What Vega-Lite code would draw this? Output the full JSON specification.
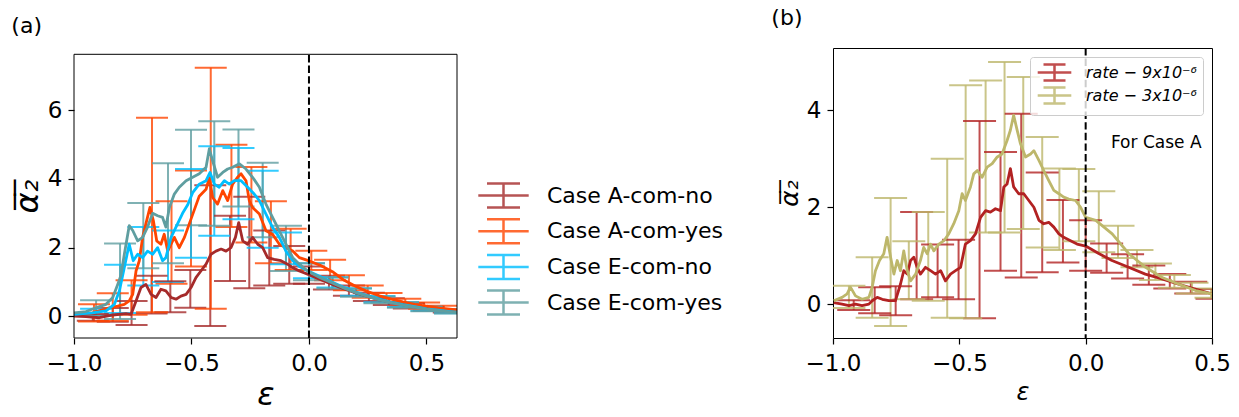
{
"$schema": "https://vega.github.io/schema/vega-lite/v6.json",
"background": "white",
"padding": {"left": 11, "top": 6, "right": 5, "bottom": 3},
"spacing": 47,
"config": {
  "font": "DejaVu Sans",
  "view": {"stroke": "#000", "strokeWidth": 1},
  "axis": {"grid": false, "domain": false, "labelFlush": false, "tickColor": "#000", "tickSize": 6, "tickWidth": 1.2, "labelColor": "#000", "labelFont": "DejaVu Sans", "labelFontSize": 23, "titleColor": "#000", "titleFont": "DejaVu Sans", "titleFontWeight": "normal", "titleFontStyle": "italic"},
  "axisX": {"labelPadding": 8},
  "axisY": {"labelPadding": 6},
  "title": {"font": "DejaVu Sans", "fontSize": 22, "fontWeight": "normal", "anchor": "start", "color": "#000"},
  "legend": {"title": null, "labelFont": "DejaVu Sans", "labelColor": "#000", "labelLimit": 0}
},
"datasets": {
  "la": [
    {"s":"Case A-com-no","x":-1.0,"y":0.01},{"s":"Case A-com-no","x":-0.949,"y":-0.01},{"s":"Case A-com-no","x":-0.892,"y":-0.04},{"s":"Case A-com-no","x":-0.835,"y":0.04},{"s":"Case A-com-no","x":-0.779,"y":0.08},{"s":"Case A-com-no","x":-0.757,"y":0.06},{"s":"Case A-com-no","x":-0.736,"y":0.45},{"s":"Case A-com-no","x":-0.715,"y":0.84},{"s":"Case A-com-no","x":-0.694,"y":0.93},{"s":"Case A-com-no","x":-0.672,"y":0.64},{"s":"Case A-com-no","x":-0.651,"y":0.55},{"s":"Case A-com-no","x":-0.63,"y":0.79},{"s":"Case A-com-no","x":-0.609,"y":0.74},{"s":"Case A-com-no","x":-0.587,"y":0.55},{"s":"Case A-com-no","x":-0.566,"y":0.5},{"s":"Case A-com-no","x":-0.545,"y":0.59},{"s":"Case A-com-no","x":-0.523,"y":0.64},{"s":"Case A-com-no","x":-0.502,"y":0.84},{"s":"Case A-com-no","x":-0.481,"y":1.13},{"s":"Case A-com-no","x":-0.46,"y":1.32},{"s":"Case A-com-no","x":-0.438,"y":1.52},{"s":"Case A-com-no","x":-0.417,"y":1.81},{"s":"Case A-com-no","x":-0.396,"y":1.9},{"s":"Case A-com-no","x":-0.374,"y":1.96},{"s":"Case A-com-no","x":-0.353,"y":1.9},{"s":"Case A-com-no","x":-0.332,"y":2.0},{"s":"Case A-com-no","x":-0.313,"y":2.3},{"s":"Case A-com-no","x":-0.299,"y":2.73},{"s":"Case A-com-no","x":-0.282,"y":2.2},{"s":"Case A-com-no","x":-0.261,"y":2.1},{"s":"Case A-com-no","x":-0.24,"y":2.3},{"s":"Case A-com-no","x":-0.218,"y":2.1},{"s":"Case A-com-no","x":-0.197,"y":2.0},{"s":"Case A-com-no","x":-0.176,"y":1.71},{"s":"Case A-com-no","x":-0.148,"y":1.66},{"s":"Case A-com-no","x":-0.119,"y":1.62},{"s":"Case A-com-no","x":-0.091,"y":1.52},{"s":"Case A-com-no","x":-0.07,"y":1.42},{"s":"Case A-com-no","x":-0.041,"y":1.32},{"s":"Case A-com-no","x":-0.006,"y":1.23},{"s":"Case A-com-no","x":0.05,"y":1.07},{"s":"Case A-com-no","x":0.1,"y":0.93},{"s":"Case A-com-no","x":0.15,"y":0.8},{"s":"Case A-com-no","x":0.2,"y":0.68},{"s":"Case A-com-no","x":0.25,"y":0.58},{"s":"Case A-com-no","x":0.3,"y":0.49},{"s":"Case A-com-no","x":0.35,"y":0.41},{"s":"Case A-com-no","x":0.4,"y":0.34},{"s":"Case A-com-no","x":0.45,"y":0.28},{"s":"Case A-com-no","x":0.5,"y":0.23},{"s":"Case A-com-no","x":0.55,"y":0.19},{"s":"Case A-com-no","x":0.6,"y":0.16},{"s":"Case A-com-no","x":0.63,"y":0.14},
    {"s":"Case A-com-yes","x":-1.0,"y":0.08},{"s":"Case A-com-yes","x":-0.921,"y":0.1},{"s":"Case A-com-yes","x":-0.85,"y":0.25},{"s":"Case A-com-yes","x":-0.814,"y":0.3},{"s":"Case A-com-yes","x":-0.786,"y":0.35},{"s":"Case A-com-yes","x":-0.765,"y":0.45},{"s":"Case A-com-yes","x":-0.75,"y":0.64},{"s":"Case A-com-yes","x":-0.736,"y":1.32},{"s":"Case A-com-yes","x":-0.722,"y":1.62},{"s":"Case A-com-yes","x":-0.708,"y":2.3},{"s":"Case A-com-yes","x":-0.691,"y":2.78},{"s":"Case A-com-yes","x":-0.677,"y":3.17},{"s":"Case A-com-yes","x":-0.662,"y":2.78},{"s":"Case A-com-yes","x":-0.648,"y":2.2},{"s":"Case A-com-yes","x":-0.63,"y":2.1},{"s":"Case A-com-yes","x":-0.616,"y":2.39},{"s":"Case A-com-yes","x":-0.601,"y":1.9},{"s":"Case A-com-yes","x":-0.587,"y":2.1},{"s":"Case A-com-yes","x":-0.573,"y":2.3},{"s":"Case A-com-yes","x":-0.552,"y":2.0},{"s":"Case A-com-yes","x":-0.53,"y":2.3},{"s":"Case A-com-yes","x":-0.509,"y":2.7},{"s":"Case A-com-yes","x":-0.488,"y":3.1},{"s":"Case A-com-yes","x":-0.467,"y":3.5},{"s":"Case A-com-yes","x":-0.438,"y":3.7},{"s":"Case A-com-yes","x":-0.424,"y":4.05},{"s":"Case A-com-yes","x":-0.41,"y":3.46},{"s":"Case A-com-yes","x":-0.389,"y":3.27},{"s":"Case A-com-yes","x":-0.367,"y":3.66},{"s":"Case A-com-yes","x":-0.346,"y":3.37},{"s":"Case A-com-yes","x":-0.325,"y":3.85},{"s":"Case A-com-yes","x":-0.304,"y":4.05},{"s":"Case A-com-yes","x":-0.289,"y":4.15},{"s":"Case A-com-yes","x":-0.268,"y":3.95},{"s":"Case A-com-yes","x":-0.254,"y":3.37},{"s":"Case A-com-yes","x":-0.24,"y":3.17},{"s":"Case A-com-yes","x":-0.211,"y":2.98},{"s":"Case A-com-yes","x":-0.183,"y":2.49},{"s":"Case A-com-yes","x":-0.155,"y":2.39},{"s":"Case A-com-yes","x":-0.126,"y":2.1},{"s":"Case A-com-yes","x":-0.098,"y":2.0},{"s":"Case A-com-yes","x":-0.069,"y":1.9},{"s":"Case A-com-yes","x":-0.041,"y":1.71},{"s":"Case A-com-yes","x":-0.006,"y":1.63},{"s":"Case A-com-yes","x":0.05,"y":1.48},{"s":"Case A-com-yes","x":0.1,"y":1.3},{"s":"Case A-com-yes","x":0.15,"y":1.05},{"s":"Case A-com-yes","x":0.2,"y":0.87},{"s":"Case A-com-yes","x":0.25,"y":0.72},{"s":"Case A-com-yes","x":0.3,"y":0.6},{"s":"Case A-com-yes","x":0.35,"y":0.5},{"s":"Case A-com-yes","x":0.4,"y":0.42},{"s":"Case A-com-yes","x":0.45,"y":0.35},{"s":"Case A-com-yes","x":0.5,"y":0.3},{"s":"Case A-com-yes","x":0.55,"y":0.25},{"s":"Case A-com-yes","x":0.6,"y":0.21},{"s":"Case A-com-yes","x":0.63,"y":0.19},
    {"s":"Case E-com-no","x":-1.0,"y":0.06},{"s":"Case E-com-no","x":-0.921,"y":0.1},{"s":"Case E-com-no","x":-0.864,"y":0.16},{"s":"Case E-com-no","x":-0.828,"y":0.35},{"s":"Case E-com-no","x":-0.807,"y":0.74},{"s":"Case E-com-no","x":-0.786,"y":1.42},{"s":"Case E-com-no","x":-0.765,"y":2.1},{"s":"Case E-com-no","x":-0.748,"y":1.62},{"s":"Case E-com-no","x":-0.729,"y":1.81},{"s":"Case E-com-no","x":-0.708,"y":1.71},{"s":"Case E-com-no","x":-0.687,"y":1.9},{"s":"Case E-com-no","x":-0.665,"y":1.81},{"s":"Case E-com-no","x":-0.644,"y":2.0},{"s":"Case E-com-no","x":-0.623,"y":1.62},{"s":"Case E-com-no","x":-0.609,"y":1.71},{"s":"Case E-com-no","x":-0.587,"y":2.3},{"s":"Case E-com-no","x":-0.566,"y":2.6},{"s":"Case E-com-no","x":-0.538,"y":3.0},{"s":"Case E-com-no","x":-0.516,"y":3.25},{"s":"Case E-com-no","x":-0.495,"y":3.6},{"s":"Case E-com-no","x":-0.467,"y":3.85},{"s":"Case E-com-no","x":-0.438,"y":3.95},{"s":"Case E-com-no","x":-0.421,"y":4.19},{"s":"Case E-com-no","x":-0.403,"y":3.85},{"s":"Case E-com-no","x":-0.382,"y":3.76},{"s":"Case E-com-no","x":-0.36,"y":3.95},{"s":"Case E-com-no","x":-0.339,"y":3.85},{"s":"Case E-com-no","x":-0.318,"y":3.95},{"s":"Case E-com-no","x":-0.289,"y":3.95},{"s":"Case E-com-no","x":-0.261,"y":3.76},{"s":"Case E-com-no","x":-0.233,"y":3.56},{"s":"Case E-com-no","x":-0.211,"y":3.37},{"s":"Case E-com-no","x":-0.183,"y":2.98},{"s":"Case E-com-no","x":-0.155,"y":2.59},{"s":"Case E-com-no","x":-0.126,"y":2.3},{"s":"Case E-com-no","x":-0.098,"y":1.9},{"s":"Case E-com-no","x":-0.069,"y":1.62},{"s":"Case E-com-no","x":-0.041,"y":1.45},{"s":"Case E-com-no","x":-0.006,"y":1.33},{"s":"Case E-com-no","x":0.05,"y":1.15},{"s":"Case E-com-no","x":0.1,"y":0.99},{"s":"Case E-com-no","x":0.15,"y":0.84},{"s":"Case E-com-no","x":0.2,"y":0.71},{"s":"Case E-com-no","x":0.25,"y":0.6},{"s":"Case E-com-no","x":0.3,"y":0.5},{"s":"Case E-com-no","x":0.35,"y":0.41},{"s":"Case E-com-no","x":0.4,"y":0.34},{"s":"Case E-com-no","x":0.45,"y":0.28},{"s":"Case E-com-no","x":0.5,"y":0.22},{"s":"Case E-com-no","x":0.55,"y":0.18},{"s":"Case E-com-no","x":0.6,"y":0.14},{"s":"Case E-com-no","x":0.63,"y":0.12},
    {"s":"Case E-com-yes","x":-1.0,"y":0.1},{"s":"Case E-com-yes","x":-0.949,"y":0.14},{"s":"Case E-com-yes","x":-0.906,"y":0.25},{"s":"Case E-com-yes","x":-0.864,"y":0.35},{"s":"Case E-com-yes","x":-0.835,"y":0.55},{"s":"Case E-com-yes","x":-0.814,"y":0.93},{"s":"Case E-com-yes","x":-0.8,"y":1.2},{"s":"Case E-com-yes","x":-0.786,"y":1.8},{"s":"Case E-com-yes","x":-0.765,"y":2.64},{"s":"Case E-com-yes","x":-0.75,"y":2.5},{"s":"Case E-com-yes","x":-0.729,"y":2.2},{"s":"Case E-com-yes","x":-0.708,"y":2.3},{"s":"Case E-com-yes","x":-0.687,"y":2.6},{"s":"Case E-com-yes","x":-0.665,"y":3.0},{"s":"Case E-com-yes","x":-0.644,"y":2.93},{"s":"Case E-com-yes","x":-0.623,"y":2.88},{"s":"Case E-com-yes","x":-0.609,"y":2.6},{"s":"Case E-com-yes","x":-0.594,"y":3.17},{"s":"Case E-com-yes","x":-0.573,"y":3.56},{"s":"Case E-com-yes","x":-0.552,"y":3.76},{"s":"Case E-com-yes","x":-0.523,"y":3.95},{"s":"Case E-com-yes","x":-0.495,"y":4.05},{"s":"Case E-com-yes","x":-0.467,"y":4.15},{"s":"Case E-com-yes","x":-0.438,"y":4.34},{"s":"Case E-com-yes","x":-0.424,"y":4.88},{"s":"Case E-com-yes","x":-0.41,"y":4.53},{"s":"Case E-com-yes","x":-0.389,"y":4.05},{"s":"Case E-com-yes","x":-0.367,"y":4.19},{"s":"Case E-com-yes","x":-0.346,"y":4.29},{"s":"Case E-com-yes","x":-0.325,"y":4.34},{"s":"Case E-com-yes","x":-0.296,"y":4.44},{"s":"Case E-com-yes","x":-0.268,"y":4.29},{"s":"Case E-com-yes","x":-0.24,"y":4.05},{"s":"Case E-com-yes","x":-0.211,"y":3.76},{"s":"Case E-com-yes","x":-0.183,"y":3.27},{"s":"Case E-com-yes","x":-0.155,"y":2.88},{"s":"Case E-com-yes","x":-0.126,"y":2.49},{"s":"Case E-com-yes","x":-0.098,"y":2.1},{"s":"Case E-com-yes","x":-0.069,"y":1.71},{"s":"Case E-com-yes","x":-0.041,"y":1.52},{"s":"Case E-com-yes","x":-0.006,"y":1.32},{"s":"Case E-com-yes","x":0.05,"y":1.12},{"s":"Case E-com-yes","x":0.1,"y":0.97},{"s":"Case E-com-yes","x":0.15,"y":0.82},{"s":"Case E-com-yes","x":0.2,"y":0.69},{"s":"Case E-com-yes","x":0.25,"y":0.58},{"s":"Case E-com-yes","x":0.3,"y":0.48},{"s":"Case E-com-yes","x":0.35,"y":0.4},{"s":"Case E-com-yes","x":0.4,"y":0.33},{"s":"Case E-com-yes","x":0.45,"y":0.27},{"s":"Case E-com-yes","x":0.5,"y":0.21},{"s":"Case E-com-yes","x":0.55,"y":0.17},{"s":"Case E-com-yes","x":0.6,"y":0.13},{"s":"Case E-com-yes","x":0.63,"y":0.11}
  ],
  "ea": [
    {"s":"Case A-com-no","x":-0.92,"lo":-0.13,"hi":0.07},{"s":"Case A-com-no","x":-0.835,"lo":-0.16,"hi":0.24},{"s":"Case A-com-no","x":-0.755,"lo":-0.25,"hi":0.45},{"s":"Case A-com-no","x":-0.67,"lo":0.08,"hi":1.18},{"s":"Case A-com-no","x":-0.59,"lo":0.12,"hi":1.02},{"s":"Case A-com-no","x":-0.505,"lo":0.25,"hi":1.35},{"s":"Case A-com-no","x":-0.42,"lo":-0.28,"hi":3.82},{"s":"Case A-com-no","x":-0.336,"lo":1.03,"hi":2.93},{"s":"Case A-com-no","x":-0.254,"lo":0.82,"hi":3.48},{"s":"Case A-com-no","x":-0.169,"lo":0.9,"hi":2.5},{"s":"Case A-com-no","x":-0.084,"lo":0.95,"hi":2.05},{"s":"Case A-com-no","x":0.0,"lo":0.95,"hi":1.45},{"s":"Case A-com-no","x":0.085,"lo":0.78,"hi":1.18},{"s":"Case A-com-no","x":0.17,"lo":0.6,"hi":0.9},{"s":"Case A-com-no","x":0.255,"lo":0.45,"hi":0.69},{"s":"Case A-com-no","x":0.34,"lo":0.33,"hi":0.53},{"s":"Case A-com-no","x":0.425,"lo":0.23,"hi":0.39},{"s":"Case A-com-no","x":0.51,"lo":0.16,"hi":0.28},{"s":"Case A-com-no","x":0.595,"lo":0.11,"hi":0.21},
    {"s":"Case A-com-yes","x":-0.915,"lo":-0.15,"hi":0.35},{"s":"Case A-com-yes","x":-0.835,"lo":-0.13,"hi":0.67},{"s":"Case A-com-yes","x":-0.755,"lo":0.05,"hi":1.05},{"s":"Case A-com-yes","x":-0.668,"lo":0.12,"hi":5.78},{"s":"Case A-com-yes","x":-0.585,"lo":0.95,"hi":3.35},{"s":"Case A-com-yes","x":-0.502,"lo":1.45,"hi":4.25},{"s":"Case A-com-yes","x":-0.418,"lo":0.22,"hi":7.24},{"s":"Case A-com-yes","x":-0.33,"lo":2.6,"hi":5.0},{"s":"Case A-com-yes","x":-0.245,"lo":2.15,"hi":4.35},{"s":"Case A-com-yes","x":-0.162,"lo":1.55,"hi":3.35},{"s":"Case A-com-yes","x":-0.078,"lo":1.35,"hi":2.55},{"s":"Case A-com-yes","x":0.01,"lo":1.35,"hi":1.91},{"s":"Case A-com-yes","x":0.09,"lo":1.05,"hi":1.65},{"s":"Case A-com-yes","x":0.17,"lo":0.76,"hi":1.2},{"s":"Case A-com-yes","x":0.25,"lo":0.54,"hi":0.9},{"s":"Case A-com-yes","x":0.33,"lo":0.4,"hi":0.68},{"s":"Case A-com-yes","x":0.41,"lo":0.29,"hi":0.51},{"s":"Case A-com-yes","x":0.49,"lo":0.22,"hi":0.4},{"s":"Case A-com-yes","x":0.57,"lo":0.17,"hi":0.31},
    {"s":"Case E-com-no","x":-0.906,"lo":0.02,"hi":0.22},{"s":"Case E-com-no","x":-0.804,"lo":0.1,"hi":1.5},{"s":"Case E-com-no","x":-0.705,"lo":0.9,"hi":2.6},{"s":"Case E-com-no","x":-0.6,"lo":1.0,"hi":2.5},{"s":"Case E-com-no","x":-0.502,"lo":1.71,"hi":4.29},{"s":"Case E-com-no","x":-0.403,"lo":2.35,"hi":4.95},{"s":"Case E-com-no","x":-0.3,"lo":2.83,"hi":4.9},{"s":"Case E-com-no","x":-0.197,"lo":2.0,"hi":4.24},{"s":"Case E-com-no","x":-0.098,"lo":1.52,"hi":2.44},{"s":"Case E-com-no","x":0.0,"lo":1.11,"hi":1.55},{"s":"Case E-com-no","x":0.1,"lo":0.84,"hi":1.14},{"s":"Case E-com-no","x":0.2,"lo":0.6,"hi":0.82},{"s":"Case E-com-no","x":0.3,"lo":0.41,"hi":0.59},{"s":"Case E-com-no","x":0.4,"lo":0.27,"hi":0.41},{"s":"Case E-com-no","x":0.5,"lo":0.16,"hi":0.28},{"s":"Case E-com-no","x":0.6,"lo":0.09,"hi":0.19},
    {"s":"Case E-com-yes","x":-0.906,"lo":0.03,"hi":0.47},{"s":"Case E-com-yes","x":-0.804,"lo":-0.08,"hi":2.12},{"s":"Case E-com-yes","x":-0.705,"lo":1.4,"hi":3.3},{"s":"Case E-com-yes","x":-0.6,"lo":1.55,"hi":4.46},{"s":"Case E-com-yes","x":-0.502,"lo":2.65,"hi":5.43},{"s":"Case E-com-yes","x":-0.403,"lo":2.64,"hi":5.68},{"s":"Case E-com-yes","x":-0.3,"lo":3.2,"hi":5.44},{"s":"Case E-com-yes","x":-0.197,"lo":2.3,"hi":4.47},{"s":"Case E-com-yes","x":-0.098,"lo":1.32,"hi":2.64},{"s":"Case E-com-yes","x":0.0,"lo":1.05,"hi":1.55},{"s":"Case E-com-yes","x":0.1,"lo":0.81,"hi":1.13},{"s":"Case E-com-yes","x":0.2,"lo":0.57,"hi":0.81},{"s":"Case E-com-yes","x":0.3,"lo":0.38,"hi":0.58},{"s":"Case E-com-yes","x":0.4,"lo":0.25,"hi":0.41},{"s":"Case E-com-yes","x":0.5,"lo":0.15,"hi":0.27},{"s":"Case E-com-yes","x":0.6,"lo":0.08,"hi":0.18}
  ],
  "lb": [
    {"s":"rate − 9x10⁻⁶","x":-0.997,"y":0.03},{"s":"rate − 9x10⁻⁶","x":-0.964,"y":0.0},{"s":"rate − 9x10⁻⁶","x":-0.937,"y":-0.03},{"s":"rate − 9x10⁻⁶","x":-0.911,"y":0.0},{"s":"rate − 9x10⁻⁶","x":-0.885,"y":-0.03},{"s":"rate − 9x10⁻⁶","x":-0.858,"y":0.0},{"s":"rate − 9x10⁻⁶","x":-0.845,"y":0.07},{"s":"rate − 9x10⁻⁶","x":-0.825,"y":0.14},{"s":"rate − 9x10⁻⁶","x":-0.805,"y":0.1},{"s":"rate − 9x10⁻⁶","x":-0.779,"y":0.07},{"s":"rate − 9x10⁻⁶","x":-0.753,"y":0.07},{"s":"rate − 9x10⁻⁶","x":-0.733,"y":0.41},{"s":"rate − 9x10⁻⁶","x":-0.72,"y":0.69},{"s":"rate − 9x10⁻⁶","x":-0.706,"y":0.62},{"s":"rate − 9x10⁻⁶","x":-0.693,"y":0.9},{"s":"rate − 9x10⁻⁶","x":-0.68,"y":0.97},{"s":"rate − 9x10⁻⁶","x":-0.667,"y":0.76},{"s":"rate − 9x10⁻⁶","x":-0.654,"y":0.62},{"s":"rate − 9x10⁻⁶","x":-0.634,"y":0.76},{"s":"rate − 9x10⁻⁶","x":-0.614,"y":0.69},{"s":"rate − 9x10⁻⁶","x":-0.594,"y":0.62},{"s":"rate − 9x10⁻⁶","x":-0.574,"y":0.69},{"s":"rate − 9x10⁻⁶","x":-0.555,"y":0.48},{"s":"rate − 9x10⁻⁶","x":-0.535,"y":0.62},{"s":"rate − 9x10⁻⁶","x":-0.515,"y":0.69},{"s":"rate − 9x10⁻⁶","x":-0.495,"y":0.76},{"s":"rate − 9x10⁻⁶","x":-0.476,"y":1.24},{"s":"rate − 9x10⁻⁶","x":-0.456,"y":1.31},{"s":"rate − 9x10⁻⁶","x":-0.436,"y":1.45},{"s":"rate − 9x10⁻⁶","x":-0.416,"y":1.79},{"s":"rate − 9x10⁻⁶","x":-0.396,"y":1.93},{"s":"rate − 9x10⁻⁶","x":-0.377,"y":1.9},{"s":"rate − 9x10⁻⁶","x":-0.357,"y":1.97},{"s":"rate − 9x10⁻⁶","x":-0.337,"y":1.93},{"s":"rate − 9x10⁻⁶","x":-0.324,"y":2.42},{"s":"rate − 9x10⁻⁶","x":-0.311,"y":2.48},{"s":"rate − 9x10⁻⁶","x":-0.298,"y":2.8},{"s":"rate − 9x10⁻⁶","x":-0.285,"y":2.42},{"s":"rate − 9x10⁻⁶","x":-0.265,"y":2.28},{"s":"rate − 9x10⁻⁶","x":-0.245,"y":2.28},{"s":"rate − 9x10⁻⁶","x":-0.225,"y":2.14},{"s":"rate − 9x10⁻⁶","x":-0.205,"y":2.0},{"s":"rate − 9x10⁻⁶","x":-0.185,"y":1.73},{"s":"rate − 9x10⁻⁶","x":-0.166,"y":1.66},{"s":"rate − 9x10⁻⁶","x":-0.146,"y":1.69},{"s":"rate − 9x10⁻⁶","x":-0.126,"y":1.59},{"s":"rate − 9x10⁻⁶","x":-0.106,"y":1.45},{"s":"rate − 9x10⁻⁶","x":-0.087,"y":1.38},{"s":"rate − 9x10⁻⁶","x":-0.06,"y":1.31},{"s":"rate − 9x10⁻⁶","x":-0.034,"y":1.24},{"s":"rate − 9x10⁻⁶","x":0.0,"y":1.2},{"s":"rate − 9x10⁻⁶","x":0.05,"y":1.05},{"s":"rate − 9x10⁻⁶","x":0.104,"y":0.9},{"s":"rate − 9x10⁻⁶","x":0.17,"y":0.76},{"s":"rate − 9x10⁻⁶","x":0.236,"y":0.62},{"s":"rate − 9x10⁻⁶","x":0.302,"y":0.52},{"s":"rate − 9x10⁻⁶","x":0.368,"y":0.41},{"s":"rate − 9x10⁻⁶","x":0.434,"y":0.31},{"s":"rate − 9x10⁻⁶","x":0.5,"y":0.21},
    {"s":"rate − 3x10⁻⁶","x":-0.997,"y":0.07},{"s":"rate − 3x10⁻⁶","x":-0.964,"y":0.14},{"s":"rate − 3x10⁻⁶","x":-0.944,"y":0.21},{"s":"rate − 3x10⁻⁶","x":-0.931,"y":0.35},{"s":"rate − 3x10⁻⁶","x":-0.911,"y":0.17},{"s":"rate − 3x10⁻⁶","x":-0.885,"y":0.1},{"s":"rate − 3x10⁻⁶","x":-0.858,"y":0.14},{"s":"rate − 3x10⁻⁶","x":-0.845,"y":0.35},{"s":"rate − 3x10⁻⁶","x":-0.832,"y":0.69},{"s":"rate − 3x10⁻⁶","x":-0.816,"y":0.9},{"s":"rate − 3x10⁻⁶","x":-0.799,"y":1.04},{"s":"rate − 3x10⁻⁶","x":-0.786,"y":1.38},{"s":"rate − 3x10⁻⁶","x":-0.772,"y":0.97},{"s":"rate − 3x10⁻⁶","x":-0.759,"y":0.62},{"s":"rate − 3x10⁻⁶","x":-0.746,"y":0.9},{"s":"rate − 3x10⁻⁶","x":-0.733,"y":0.69},{"s":"rate − 3x10⁻⁶","x":-0.72,"y":1.1},{"s":"rate − 3x10⁻⁶","x":-0.706,"y":0.69},{"s":"rate − 3x10⁻⁶","x":-0.693,"y":0.48},{"s":"rate − 3x10⁻⁶","x":-0.673,"y":0.62},{"s":"rate − 3x10⁻⁶","x":-0.654,"y":0.9},{"s":"rate − 3x10⁻⁶","x":-0.641,"y":1.17},{"s":"rate − 3x10⁻⁶","x":-0.627,"y":1.04},{"s":"rate − 3x10⁻⁶","x":-0.614,"y":1.24},{"s":"rate − 3x10⁻⁶","x":-0.601,"y":1.1},{"s":"rate − 3x10⁻⁶","x":-0.581,"y":1.24},{"s":"rate − 3x10⁻⁶","x":-0.561,"y":1.31},{"s":"rate − 3x10⁻⁶","x":-0.542,"y":1.45},{"s":"rate − 3x10⁻⁶","x":-0.522,"y":1.66},{"s":"rate − 3x10⁻⁶","x":-0.502,"y":1.93},{"s":"rate − 3x10⁻⁶","x":-0.489,"y":2.28},{"s":"rate − 3x10⁻⁶","x":-0.476,"y":2.14},{"s":"rate − 3x10⁻⁶","x":-0.456,"y":2.42},{"s":"rate − 3x10⁻⁶","x":-0.443,"y":2.69},{"s":"rate − 3x10⁻⁶","x":-0.429,"y":2.76},{"s":"rate − 3x10⁻⁶","x":-0.41,"y":2.62},{"s":"rate − 3x10⁻⁶","x":-0.39,"y":2.83},{"s":"rate − 3x10⁻⁶","x":-0.37,"y":2.9},{"s":"rate − 3x10⁻⁶","x":-0.35,"y":3.04},{"s":"rate − 3x10⁻⁶","x":-0.331,"y":3.1},{"s":"rate − 3x10⁻⁶","x":-0.311,"y":3.38},{"s":"rate − 3x10⁻⁶","x":-0.298,"y":3.59},{"s":"rate − 3x10⁻⁶","x":-0.285,"y":3.9},{"s":"rate − 3x10⁻⁶","x":-0.271,"y":3.59},{"s":"rate − 3x10⁻⁶","x":-0.258,"y":3.31},{"s":"rate − 3x10⁻⁶","x":-0.238,"y":3.04},{"s":"rate − 3x10⁻⁶","x":-0.218,"y":3.1},{"s":"rate − 3x10⁻⁶","x":-0.205,"y":3.17},{"s":"rate − 3x10⁻⁶","x":-0.185,"y":2.97},{"s":"rate − 3x10⁻⁶","x":-0.166,"y":2.76},{"s":"rate − 3x10⁻⁶","x":-0.146,"y":2.55},{"s":"rate − 3x10⁻⁶","x":-0.126,"y":2.35},{"s":"rate − 3x10⁻⁶","x":-0.106,"y":2.28},{"s":"rate − 3x10⁻⁶","x":-0.087,"y":2.21},{"s":"rate − 3x10⁻⁶","x":-0.067,"y":2.17},{"s":"rate − 3x10⁻⁶","x":-0.04,"y":2.14},{"s":"rate − 3x10⁻⁶","x":-0.02,"y":2.0},{"s":"rate − 3x10⁻⁶","x":0.0,"y":1.79},{"s":"rate − 3x10⁻⁶","x":0.04,"y":1.73},{"s":"rate − 3x10⁻⁶","x":0.105,"y":1.45},{"s":"rate − 3x10⁻⁶","x":0.171,"y":1.04},{"s":"rate − 3x10⁻⁶","x":0.237,"y":0.76},{"s":"rate − 3x10⁻⁶","x":0.303,"y":0.55},{"s":"rate − 3x10⁻⁶","x":0.369,"y":0.41},{"s":"rate − 3x10⁻⁶","x":0.435,"y":0.28},{"s":"rate − 3x10⁻⁶","x":0.5,"y":0.21}
  ],
  "eb": [
    {"s":"rate − 9x10⁻⁶","x":-0.918,"lo":-0.12,"hi":0.08},{"s":"rate − 9x10⁻⁶","x":-0.835,"lo":-0.19,"hi":0.35},{"s":"rate − 9x10⁻⁶","x":-0.752,"lo":-0.23,"hi":0.37},{"s":"rate − 9x10⁻⁶","x":-0.669,"lo":0.1,"hi":1.9},{"s":"rate − 9x10⁻⁶","x":-0.586,"lo":0.14,"hi":1.23},{"s":"rate − 9x10⁻⁶","x":-0.503,"lo":0.1,"hi":1.33},{"s":"rate − 9x10⁻⁶","x":-0.42,"lo":-0.29,"hi":3.78},{"s":"rate − 9x10⁻⁶","x":-0.337,"lo":0.69,"hi":3.14},{"s":"rate − 9x10⁻⁶","x":-0.255,"lo":0.55,"hi":3.93},{"s":"rate − 9x10⁻⁶","x":-0.172,"lo":0.66,"hi":2.72},{"s":"rate − 9x10⁻⁶","x":-0.09,"lo":0.86,"hi":2.15},{"s":"rate − 9x10⁻⁶","x":0.0,"lo":0.69,"hi":1.73},{"s":"rate − 9x10⁻⁶","x":0.083,"lo":0.65,"hi":1.25},{"s":"rate − 9x10⁻⁶","x":0.166,"lo":0.53,"hi":1.03},{"s":"rate − 9x10⁻⁶","x":0.25,"lo":0.4,"hi":0.8},{"s":"rate − 9x10⁻⁶","x":0.333,"lo":0.32,"hi":0.62},{"s":"rate − 9x10⁻⁶","x":0.416,"lo":0.22,"hi":0.46},{"s":"rate − 9x10⁻⁶","x":0.5,"lo":0.11,"hi":0.31},
    {"s":"rate − 3x10⁻⁶","x":-0.937,"lo":-0.08,"hi":0.38},{"s":"rate − 3x10⁻⁶","x":-0.845,"lo":-0.28,"hi":0.97},{"s":"rate − 3x10⁻⁶","x":-0.772,"lo":-0.45,"hi":2.19},{"s":"rate − 3x10⁻⁶","x":-0.7,"lo":0.1,"hi":1.3},{"s":"rate − 3x10⁻⁶","x":-0.623,"lo":0.07,"hi":1.9},{"s":"rate − 3x10⁻⁶","x":-0.548,"lo":-0.28,"hi":3.0},{"s":"rate − 3x10⁻⁶","x":-0.475,"lo":-0.29,"hi":4.52},{"s":"rate − 3x10⁻⁶","x":-0.396,"lo":1.48,"hi":4.62},{"s":"rate − 3x10⁻⁶","x":-0.321,"lo":1.48,"hi":5.0},{"s":"rate − 3x10⁻⁶","x":-0.247,"lo":1.55,"hi":4.69},{"s":"rate − 3x10⁻⁶","x":-0.172,"lo":1.17,"hi":3.45},{"s":"rate − 3x10⁻⁶","x":-0.104,"lo":1.12,"hi":2.8},{"s":"rate − 3x10⁻⁶","x":-0.027,"lo":1.3,"hi":2.79},{"s":"rate − 3x10⁻⁶","x":0.052,"lo":1.07,"hi":2.33},{"s":"rate − 3x10⁻⁶","x":0.128,"lo":0.95,"hi":1.62},{"s":"rate − 3x10⁻⁶","x":0.203,"lo":0.76,"hi":1.12},{"s":"rate − 3x10⁻⁶","x":0.276,"lo":0.5,"hi":0.84},{"s":"rate − 3x10⁻⁶","x":0.351,"lo":0.34,"hi":0.6},{"s":"rate − 3x10⁻⁶","x":0.421,"lo":0.22,"hi":0.44},{"s":"rate − 3x10⁻⁶","x":0.496,"lo":0.13,"hi":0.32}
  ],
  "tb": [{"x":0.1,"y":3.32,"t":"For Case A"}],
  "z": [{"x":0}]
},
"hconcat": [
  {
    "width": 383, "height": 290,
    "view": {"stroke": null},
    "title": {"text": "(a)", "offset": 9.7},
    "layer": [
      {"data": {"name": "ea"}, "mark": {"type": "rule", "strokeWidth": 2, "opacity": 0.8, "clip": true},
       "encoding": {
         "x": {"field": "x", "type": "quantitative", "title": "ε", "scale": {"domain": [-1, 0.63], "nice": false, "zero": false, "padding": 0}, "axis": {"values": [-1, -0.5, 0, 0.5], "format": ".1f", "titleFontSize": 32, "titlePadding": 4}},
         "y": {"field": "lo", "type": "quantitative", "title": "α̅₂̅", "scale": {"domain": [-0.63, 7.63], "range": [290, 6.3], "nice": false, "zero": false, "padding": 0}, "axis": {"values": [0, 2, 4, 6], "format": "d", "titleFontSize": 32, "titlePadding": 3}},
         "y2": {"field": "hi"},
         "color": {"field": "s", "type": "nominal"}}},
      {"data": {"name": "ea"}, "mark": {"type": "tick", "orient": "horizontal", "size": 32, "thickness": 2, "opacity": 0.8, "clip": true},
       "encoding": {
         "x": {"field": "x", "type": "quantitative", "title": "ε"},
         "y": {"field": "lo", "type": "quantitative", "title": "α̅₂̅"},
         "color": {"field": "s", "type": "nominal"}}},
      {"data": {"name": "ea"}, "mark": {"type": "tick", "orient": "horizontal", "size": 32, "thickness": 2, "opacity": 0.8, "clip": true},
       "encoding": {
         "x": {"field": "x", "type": "quantitative", "title": "ε"},
         "y": {"field": "hi", "type": "quantitative", "title": "α̅₂̅"},
         "color": {"field": "s", "type": "nominal"}}},
      {"data": {"name": "la"}, "mark": {"type": "line", "strokeWidth": 2.8, "clip": true, "strokeJoin": "round"},
       "encoding": {
         "x": {"field": "x", "type": "quantitative", "title": "ε"},
         "y": {"field": "y", "type": "quantitative", "title": "α̅₂̅"},
         "color": {"field": "s", "type": "nominal",
           "scale": {"domain": ["Case A-com-no", "Case A-com-yes", "Case E-com-no", "Case E-com-yes"], "range": ["#A52A2A", "#FF4500", "#00BFFF", "#5F9EA0"]},
           "legend": {"orient": "none", "legendX": 403, "legendY": 134, "padding": 0,
             "symbolType": "M-2.1,0H2.1M0,-1V1M-1.375,-1H1.375M-1.375,1H1.375",
             "symbolSize": 576, "symbolOffset": 13, "symbolStrokeWidth": 2.5, "labelFontSize": 22, "labelOffset": 30, "rowPadding": 0.7}}}},
      {"data": {"name": "z"}, "mark": {"type": "rule", "color": "#000", "strokeWidth": 2, "strokeDash": [7.4, 3.2]},
       "encoding": {"x": {"field": "x", "type": "quantitative", "title": "ε"}, "y": {"datum": -0.63, "type": "quantitative", "title": "α̅₂̅"}, "y2": {"datum": 7.63}}},
      {"data": {"name": "z"}, "mark": {"type": "rect", "fill": "transparent", "stroke": "#000", "strokeWidth": 1},
       "encoding": {"x": {"datum": -1, "type": "quantitative", "title": "ε"}, "x2": {"datum": 0.63}, "y": {"datum": -0.63, "type": "quantitative", "title": "α̅₂̅"}, "y2": {"datum": 7.63}}}
    ]
  },
  {
    "width": 379, "height": 290,
    "title": {"text": "(b)", "offset": 16.7, "dx": -6},
    "layer": [
      {"data": {"name": "eb"}, "mark": {"type": "rule", "strokeWidth": 2, "opacity": 0.8, "clip": true},
       "encoding": {
         "x": {"field": "x", "type": "quantitative", "title": "ε", "scale": {"domain": [-1, 0.5], "nice": false, "zero": false, "padding": 0}, "axis": {"values": [-1, -0.5, 0, 0.5], "format": ".1f", "titleFontSize": 24, "titlePadding": 5}},
         "y": {"field": "lo", "type": "quantitative", "title": "α̅₂̅", "scale": {"domain": [-0.7, 5.29], "nice": false, "zero": false, "padding": 0}, "axis": {"values": [0, 2, 4], "format": "d", "titleFontSize": 25, "titlePadding": 4}},
         "y2": {"field": "hi"},
         "color": {"field": "s", "type": "nominal"}}},
      {"data": {"name": "eb"}, "mark": {"type": "tick", "orient": "horizontal", "size": 33, "thickness": 2, "opacity": 0.8, "clip": true},
       "encoding": {
         "x": {"field": "x", "type": "quantitative", "title": "ε"},
         "y": {"field": "lo", "type": "quantitative", "title": "α̅₂̅"},
         "color": {"field": "s", "type": "nominal"}}},
      {"data": {"name": "eb"}, "mark": {"type": "tick", "orient": "horizontal", "size": 33, "thickness": 2, "opacity": 0.8, "clip": true},
       "encoding": {
         "x": {"field": "x", "type": "quantitative", "title": "ε"},
         "y": {"field": "hi", "type": "quantitative", "title": "α̅₂̅"},
         "color": {"field": "s", "type": "nominal"}}},
      {"data": {"name": "lb"}, "mark": {"type": "line", "strokeWidth": 2.8, "clip": true, "strokeJoin": "round"},
       "encoding": {
         "x": {"field": "x", "type": "quantitative", "title": "ε"},
         "y": {"field": "y", "type": "quantitative", "title": "α̅₂̅"},
         "color": {"field": "s", "type": "nominal",
           "scale": {"domain": ["rate − 9x10⁻⁶", "rate − 3x10⁻⁶"], "range": ["#B22222", "#BDB76B"]},
           "legend": {"orient": "top-right", "offset": 9, "padding": 6,
             "strokeColor": "#cccccc", "fillColor": "rgba(255,255,255,0.8)", "cornerRadius": 3,
             "symbolType": "M-2.1,0H2.1M0,-1V1M-1.375,-1H1.375M-1.375,1H1.375",
             "symbolSize": 256, "symbolOffset": 9, "symbolStrokeWidth": 2.5, "labelFontSize": 16, "labelFontStyle": "italic", "labelOffset": 22, "rowPadding": -4}}}},
      {"data": {"name": "z"}, "mark": {"type": "rule", "color": "#000", "strokeWidth": 2, "strokeDash": [7.4, 3.2]},
       "encoding": {"x": {"field": "x", "type": "quantitative", "title": "ε"}}},
      {"data": {"name": "tb"}, "mark": {"type": "text", "align": "left", "baseline": "middle", "fontSize": 17, "font": "DejaVu Sans", "color": "#000"},
       "encoding": {
         "x": {"field": "x", "type": "quantitative", "title": "ε"},
         "y": {"field": "y", "type": "quantitative", "title": "α̅₂̅"},
         "text": {"field": "t"}}}
    ]
  }
],
"resolve": {"scale": {"color": "independent"}, "legend": {"color": "independent"}}
}
